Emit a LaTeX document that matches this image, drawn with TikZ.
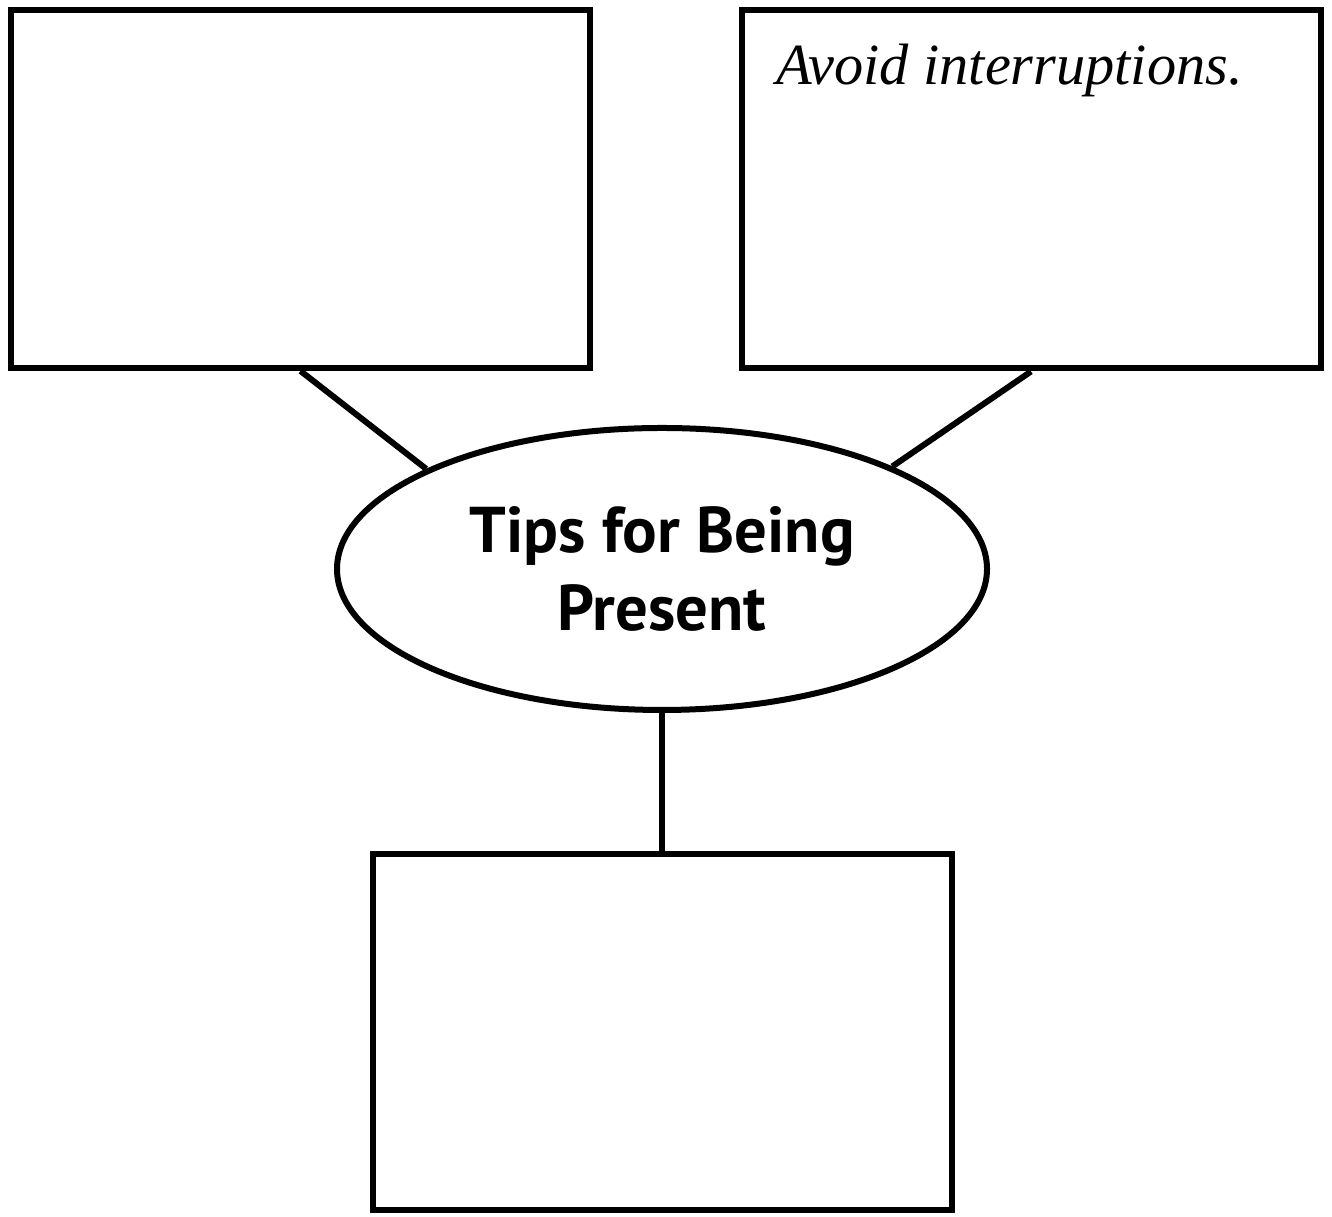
\documentclass[tikz,border=0pt]{standalone}
\usepackage{fontspec}
\usepackage{tikz}
\usetikzlibrary{shapes.geometric,positioning}
\newfontfamily\headfont{PT Sans}
\newfontfamily\handfont{Liberation Serif}

\begin{document}
\begin{tikzpicture}[
  line width=0.06cm,
  tipbox/.style={draw, rectangle, minimum width=5.79cm, minimum height=3.58cm},
  centre/.style={draw, ellipse, inner sep=0pt, minimum width=6.5cm, minimum height=2.82cm,
    align=center, font=\headfont\fontsize{18.4}{22}\selectfont\bfseries},
  link/.style={draw}
]
\useasboundingbox (0,0) rectangle (13.32,12.16);

% -- Three answer boxes round one central idea.
\node[tipbox] (left)   at (3.005,10.27)  {};
\node[tipbox] (right)  at (10.31,10.265) {};
\node[tipbox, minimum height=3.56cm] (bottom) at (6.62,1.84) {};

\node[centre] (tips) at (6.62,6.47) {Tips for Being\\Present};

% -- Sample answer written in the top right box.
\node[anchor=west, inner sep=0pt, font=\handfont\itshape\fontsize{16.6}{20}\selectfont]
  (avoid) at (7.73,11.46) {Avoid interruptions.};

% -- Spokes from the boxes to the ellipse.
\draw[link] (left.south)  -- (tips.157);
\draw[link] (right.south) -- (tips.24.5);
\draw[link] (tips.south)  -- (bottom.north);
\end{tikzpicture}
\end{document}
